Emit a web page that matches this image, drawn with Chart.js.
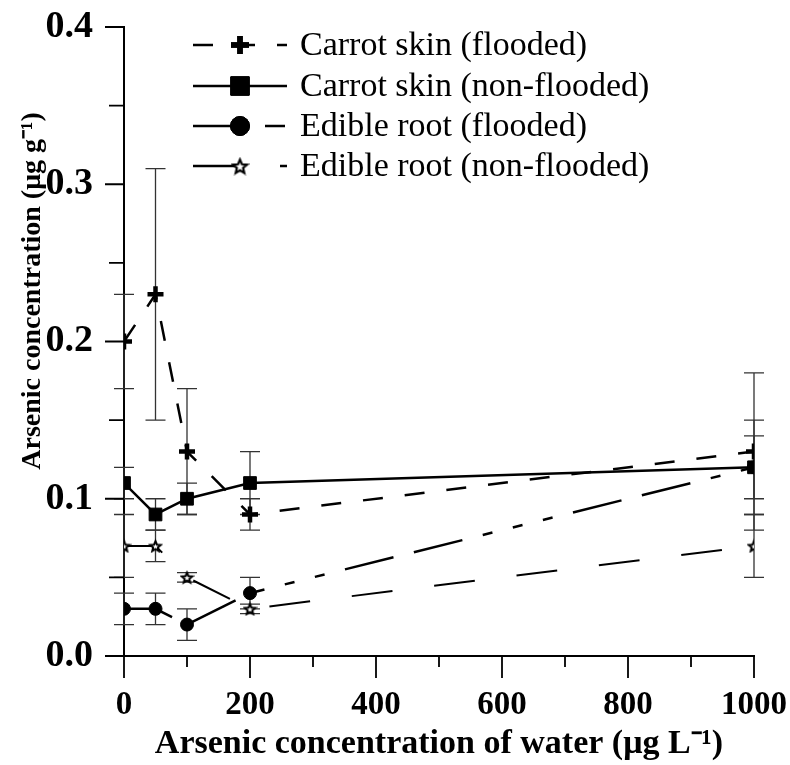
<!DOCTYPE html>
<html>
<head>
<meta charset="utf-8">
<script src="https://cdn.jsdelivr.net/npm/chart.js@4.4.0/dist/chart.umd.min.js"></script>
<style>
  html, body { margin: 0; padding: 0; background: #fff; }
  #wrap { width: 790px; height: 765px; }
</style>
</head>
<body>
<div id="wrap"><canvas id="chart"></canvas></div>
<script>
// water arsenic levels (x)
const waterLevels = [0, 50, 100, 200, 1000];

const seriesNames = [
  'Carrot skin (flooded)',
  'Carrot skin (non-flooded)',
  'Edible root (flooded)',
  'Edible root (non-flooded)',
];

// arsenic in carrot (µg/g) and error bar half-widths
const carrotSkinFlooded = [0.20, 0.23, 0.13, 0.09, 0.13];
const carrotSkinFloodedErr = [0.03, 0.08, 0.04, 0.01, 0.05];
const carrotSkinNonFlooded = [0.11, 0.09, 0.10, 0.11, 0.12];
const carrotSkinNonFloodedErr = [0.01, 0.01, 0.01, 0.02, 0.03];
const edibleRootFlooded = [0.03, 0.03, 0.02, 0.04, 0.12];
const edibleRootFloodedErr = [0.01, 0.01, 0.01, 0.01, 0.02];
const edibleRootNonFlooded = [0.07, 0.07, 0.05, 0.03, 0.07];
const edibleRootNonFloodedErr = [0.02, 0.01, 0.003, 0.003, 0.02];

const xTicks = [0, 200, 400, 600, 800, 1000];
const yTicks = [0.0, 0.1, 0.2, 0.3, 0.4];

const serif = "'Liberation Serif', 'Times New Roman', serif";

// five point star as an image, Chart.js 'star' is an asterisk
function makeStar(size, lw) {
  const c = document.createElement('canvas');
  c.width = size; c.height = size;
  const g = c.getContext('2d');
  const cx = size / 2, cy = size / 2 + size * 0.05;
  const R = size / 2 - lw, r = R * 0.45;
  g.beginPath();
  for (let i = 0; i < 10; i++) {
    const a = -Math.PI / 2 + i * Math.PI / 5;
    const rad = i % 2 === 0 ? R : r;
    g.lineTo(cx + rad * Math.cos(a), cy + rad * Math.sin(a));
  }
  g.closePath();
  g.fillStyle = '#fff';
  g.fill();
  g.lineWidth = lw;
  g.strokeStyle = '#000';
  g.stroke();
  return c;
}
const starSmall = makeStar(15, 2);
const starBig = makeStar(19, 2.2);

const toPoints = vals => vals.map((v, i) => ({ x: waterLevels[i], y: v }));

const datasets = [
  {
    label: seriesNames[0],
    data: toPoints(carrotSkinFlooded),
    errors: carrotSkinFloodedErr,
    borderColor: '#000', backgroundColor: '#000', borderWidth: 2.5,
    borderDash: [20, 22],
    pointStyle: 'cross', pointRadius: 8, pointBorderWidth: 4.5,
    legendDash: [20, 22], legendRadius: 9,
  },
  {
    label: seriesNames[1],
    data: toPoints(carrotSkinNonFlooded),
    errors: carrotSkinNonFloodedErr,
    borderColor: '#000', backgroundColor: '#000', borderWidth: 2.5,
    borderDash: [],
    pointStyle: 'rect', pointRadius: 9, pointBorderWidth: 1,
    legendDash: [], legendRadius: 13,
  },
  {
    label: seriesNames[2],
    data: toPoints(edibleRootFlooded),
    errors: edibleRootFloodedErr,
    borderColor: '#000', backgroundColor: '#000', borderWidth: 2.5,
    borderDash: [50, 21, 50, 21, 10, 21, 10, 21, 10, 21],
    pointStyle: 'circle', pointRadius: 6.5, pointBorderWidth: 1,
    legendDash: [40, 32, 20], legendRadius: 9.5,
  },
  {
    label: seriesNames[3],
    data: toPoints(edibleRootNonFlooded),
    errors: edibleRootNonFloodedErr,
    borderColor: '#000', backgroundColor: '#000', borderWidth: 2,
    borderDash: [41, 42],
    pointStyle: starSmall, pointRadius: 7, pointBorderWidth: 1,
    legendDash: [47, 40, 7], legendRadius: 9, legendImage: starBig,
  },
];

// error bars under the lines
const errorBars = {
  id: 'errorBars',
  beforeDatasetsDraw(chart) {
    const { ctx, scales: { x, y } } = chart;
    ctx.save();
    ctx.strokeStyle = '#333';
    ctx.lineWidth = 1.3;
    chart.data.datasets.forEach(ds => {
      ds.data.forEach((p, i) => {
        const e = ds.errors[i];
        const px = x.getPixelForValue(p.x);
        const top = y.getPixelForValue(p.y + e);
        const bot = y.getPixelForValue(p.y - e);
        ctx.beginPath();
        ctx.moveTo(px, top); ctx.lineTo(px, bot);
        ctx.moveTo(px - 10, top); ctx.lineTo(px + 10, top);
        ctx.moveTo(px - 10, bot); ctx.lineTo(px + 10, bot);
        ctx.stroke();
      });
    });
    ctx.restore();
  }
};

// outside tick marks with minor ticks
const tickMarks = {
  id: 'tickMarks',
  afterDraw(chart) {
    const { ctx, chartArea, scales: { x, y } } = chart;
    ctx.save();
    ctx.strokeStyle = '#000';
    ctx.lineWidth = 1.8;
    ctx.beginPath();
    for (let v = 0; v <= 1000; v += 100) {
      const px = x.getPixelForValue(v);
      const len = v % 200 === 0 ? 22 : 11;
      ctx.moveTo(px, chartArea.bottom); ctx.lineTo(px, chartArea.bottom + len);
    }
    for (let k = 0; k <= 8; k++) {
      const py = y.getPixelForValue(k * 0.05);
      const len = k % 2 === 0 ? 19 : 15;
      ctx.moveTo(chartArea.left, py); ctx.lineTo(chartArea.left - len, py);
    }
    ctx.stroke();
    ctx.restore();
  }
};

// legend drawn with line sample + marker, top left
const lineLegend = {
  id: 'lineLegend',
  afterDraw(chart) {
    const { ctx } = chart;
    const x0 = 193, x1 = 287, mx = 240, tx = 300;
    const rows = [45, 86, 126, 166];
    ctx.save();
    chart.data.datasets.forEach((ds, i) => {
      const yy = rows[i];
      ctx.strokeStyle = '#000';
      ctx.lineWidth = 2.5;
      ctx.setLineDash(ds.legendDash);
      ctx.beginPath();
      ctx.moveTo(x0, yy); ctx.lineTo(x1, yy);
      ctx.stroke();
      ctx.setLineDash([]);
      if (ds.legendImage) {
        ctx.drawImage(ds.legendImage, mx - ds.legendImage.width / 2, yy - ds.legendImage.height / 2);
      } else {
        const isCross = ds.pointStyle === 'cross';
        ctx.lineWidth = isCross ? 5.5 : 1;
        ctx.fillStyle = '#000';
        ctx.strokeStyle = '#000';
        Chart.helpers.drawPoint(ctx, {
          pointStyle: ds.pointStyle, radius: ds.legendRadius,
          borderWidth: ctx.lineWidth, rotation: 0,
        }, mx, yy);
        if (!isCross) ctx.fill();
        ctx.stroke();
      }
      ctx.fillStyle = '#000';
      ctx.font = '34px ' + serif;
      ctx.textBaseline = 'middle';
      ctx.textAlign = 'left';
      ctx.fillText(ds.label, tx, yy + 1);
    });
    // y axis title, rotated
    ctx.translate(40, 291);
    ctx.rotate(-Math.PI / 2);
    ctx.font = 'bold 28px ' + serif;
    ctx.textAlign = 'center';
    ctx.textBaseline = 'alphabetic';
    ctx.fillText('Arsenic concentration (μg g⁻¹)', 0, 0);
    ctx.restore();
  }
};

const noOverflow = s => {
  s.paddingTop = 0; s.paddingBottom = 0; s.paddingLeft = 0; s.paddingRight = 0;
};

const chart = new Chart(document.getElementById('chart'), {
  type: 'line',
  data: { datasets },
  options: {
    responsive: true,
    maintainAspectRatio: false,
    animation: false,
    devicePixelRatio: 1,
    layout: { padding: { top: 27, right: 36, left: 0, bottom: 0 } },
    plugins: { legend: { display: false }, tooltip: { enabled: false } },
    scales: {
      x: {
        type: 'linear', min: 0, max: 1000,
        afterBuildTicks: s => { s.ticks = xTicks.map(v => ({ value: v })); },
        afterFit: s => { s.height = 109; noOverflow(s); },
        ticks: {
          color: '#000', padding: 30, maxRotation: 0,
          callback: v => String(v),
          font: { family: serif, size: 33, weight: 'bold' },
        },
        grid: { drawOnChartArea: false, drawTicks: false },
        border: { display: true, color: '#000', width: 2 },
        title: {
          display: true, text: 'Arsenic concentration of water (μg L⁻¹)', color: '#000',
          font: { family: serif, size: 34, weight: 'bold' },
          padding: { top: 0, bottom: 0 },
        },
      },
      y: {
        type: 'linear', min: 0, max: 0.4,
        afterBuildTicks: s => { s.ticks = yTicks.map(v => ({ value: v })); },
        afterFit: s => { s.width = 124; noOverflow(s); },
        ticks: {
          color: '#000', padding: 31,
          callback: v => v.toFixed(1),
          font: { family: serif, size: 38, weight: 'bold' },
        },
        grid: { drawOnChartArea: false, drawTicks: false },
        border: { display: true, color: '#000', width: 2 },
      },
    },
  },
  plugins: [errorBars, tickMarks, lineLegend],
});
</script>
</body>
</html>
